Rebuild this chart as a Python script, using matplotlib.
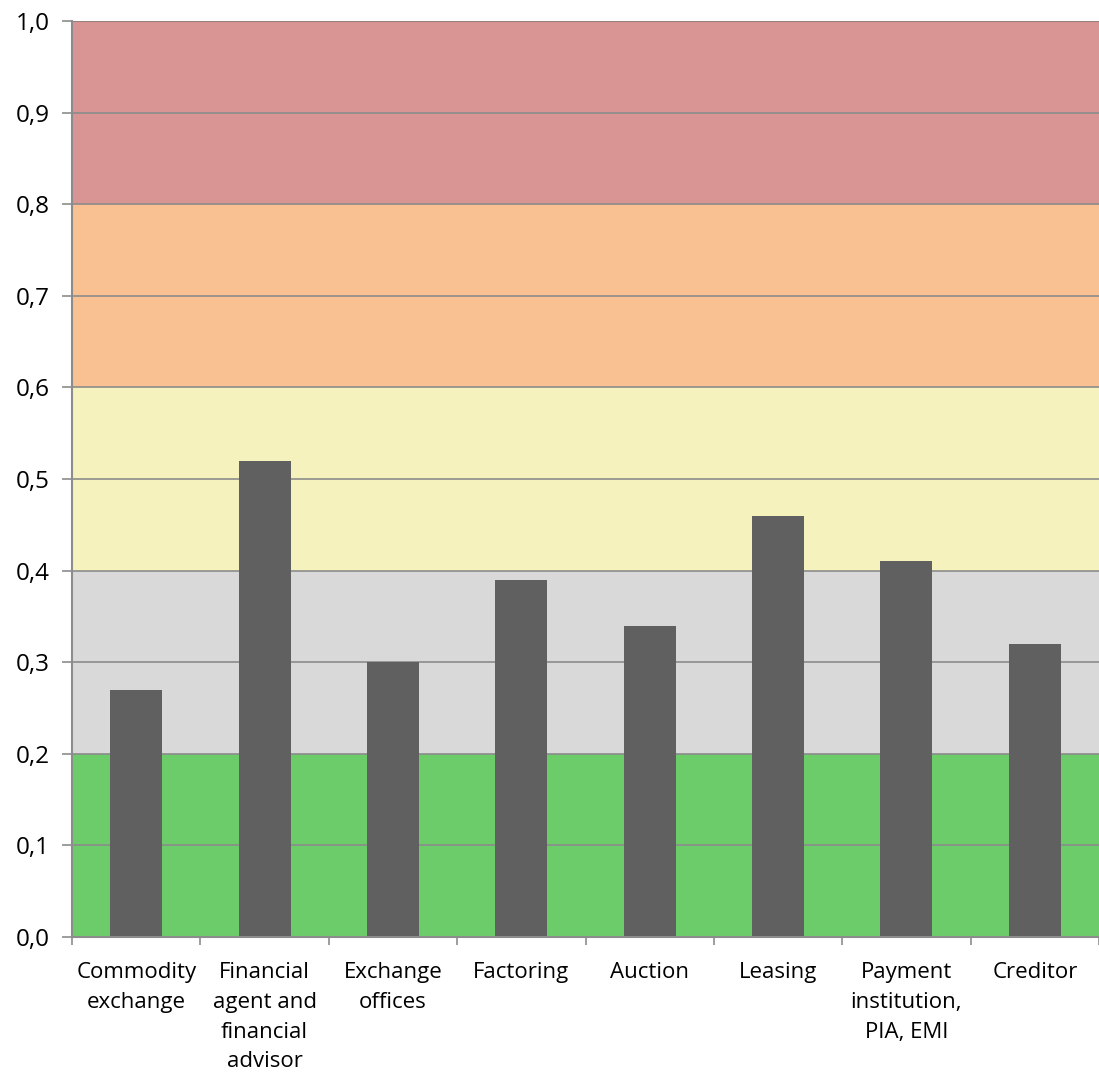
import numpy as np
import matplotlib.pyplot as plt
from matplotlib.ticker import MultipleLocator, FixedLocator

# data
categories = ["Commodity\nexchange", "Financial\nagent and\nfinancial\nadvisor",
              "Exchange\noffices", "Factoring", "Auction", "Leasing",
              "Payment\ninstitution,\nPIA, EMI", "Creditor"]
values = [0.27, 0.52, 0.30, 0.39, 0.34, 0.46, 0.41, 0.32]

band_lower = [0.0, 0.2, 0.4, 0.6, 0.8]
band_upper = [0.2, 0.4, 0.6, 0.8, 1.0]
band_colors = ["#6CCC69", "#D9D9D9", "#F5F2BD", "#F9C091", "#D99594"]

plt.rcParams['font.family'] = ['Open Sans', 'DejaVu Sans']

fig = plt.figure(figsize=(10.99, 10.79), dpi=100)
ax = fig.add_axes([72/1099, 142/1079, 1 - 72/1099, (937-21)/1079])

# risk bands
for lo, hi, c in zip(band_lower, band_upper, band_colors):
    ax.axhspan(lo, hi, color=c, zorder=0, lw=0)
ax.axhline(1.0, color="#C0504D", lw=1.5, zorder=1)

x = np.arange(len(categories))
ax.bar(x, values, width=0.405, color="#606060", zorder=3)

ax.set_xlim(-0.5, len(categories) - 0.5)
ax.set_ylim(0, 1.0)
ax.yaxis.set_major_locator(MultipleLocator(0.1))
ax.yaxis.set_major_formatter(lambda v, p: f"{v:.1f}".replace(".", ","))
ax.grid(axis="y", color="#8C8C8C", lw=1.2, zorder=2)
ax.set_axisbelow(False)

ax.set_xticks(x)
ax.set_xticklabels(categories, fontsize=16, va="top", ha="center", linespacing=1.55)
ax.xaxis.set_minor_locator(FixedLocator(np.arange(-0.5, len(categories), 1.0)))
ax.tick_params(axis="x", which="major", length=0, pad=18)
ax.tick_params(axis="x", which="minor", length=6, color="#8C8C8C", width=1.2)
ax.tick_params(axis="y", length=7, color="#8C8C8C", width=1.2, labelsize=17.5, pad=9)

for s in ["top", "right"]:
    ax.spines[s].set_visible(False)
ax.spines["left"].set_color("#8C8C8C")
ax.spines["left"].set_linewidth(1.5)
ax.spines["bottom"].set_color("#8C8C8C")
ax.spines["bottom"].set_linewidth(1.5)
ax.spines["left"].set_zorder(4)
ax.spines["bottom"].set_zorder(4)

fig.savefig("out.png", dpi=100)
